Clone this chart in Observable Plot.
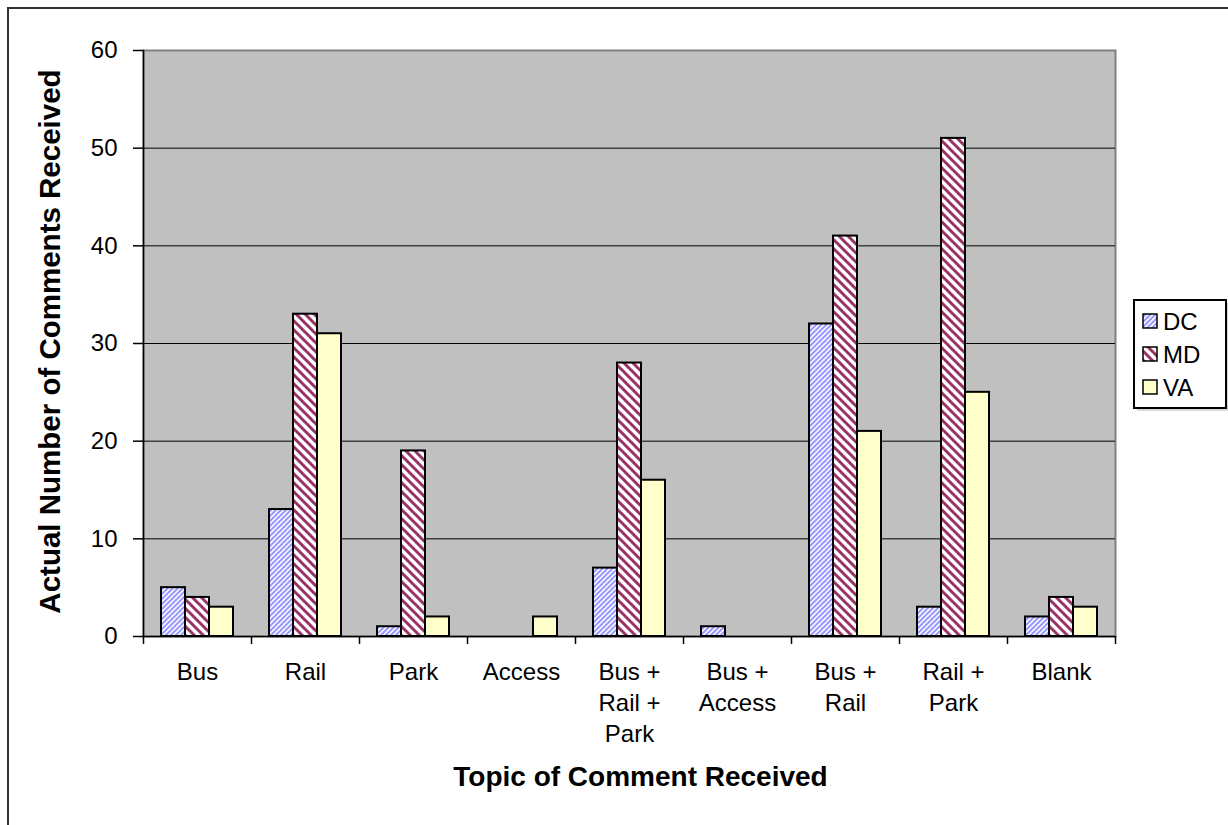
<!DOCTYPE html>
<html>
<head>
<meta charset="utf-8">
<script src="https://cdn.jsdelivr.net/npm/d3@7"></script>
<script src="https://cdn.jsdelivr.net/npm/@observablehq/plot@0.6"></script>
<style>
  html, body { margin: 0; padding: 0; background: #fff; overflow: hidden; }
  #chart svg { display: block; }
</style>
</head>
<body>
<div id="chart"></div>
<script>
// Comments received by topic, split by jurisdiction
const categories = ["Bus", "Rail", "Park", "Access", "Bus + Rail + Park", "Bus + Access", "Bus + Rail", "Rail + Park", "Blank"];
const tickLabels = ["Bus", "Rail", "Park", "Access", "Bus +\nRail +\nPark", "Bus +\nAccess", "Bus +\nRail", "Rail +\nPark", "Blank"];
const series = ["DC", "MD", "VA"];
const dcValues = [5, 13, 1, 0, 7, 1, 32, 3, 2];
const mdValues = [4, 33, 19, 0, 28, 0, 41, 51, 4];
const vaValues = [3, 31, 2, 2, 16, 0, 21, 25, 3];
const yTicks = [0, 10, 20, 30, 40, 50, 60];
const gridValues = [10, 20, 30, 40, 50];

const seriesValues = {DC: dcValues, MD: mdValues, VA: vaValues};
const seriesFill = {DC: "url(#pat-dc)", MD: "url(#pat-md)", VA: "#ffffcc"};

const font = "'Liberation Sans', Arial, Helvetica, sans-serif";
const bandWidth = (1228 - 143 - 113) / categories.length; // 108
const barWidth = 24;
const inset = (bandWidth - barWidth) / 2;

function rows(name) {
  return categories
    .map((c, j) => ({category: c, series: name, value: seriesValues[name][j]}))
    .filter(d => d.value > 0);
}

const labelOf = new Map(categories.map((c, i) => [c, tickLabels[i]]));

const chart = Plot.plot({
  width: 1228,
  height: 825,
  marginLeft: 143,
  marginRight: 113,
  marginTop: 50,
  marginBottom: 189,
  style: {fontFamily: font, color: "black", background: "white", overflow: "visible"},
  x: {domain: categories, paddingInner: 0, paddingOuter: 0, axis: null},
  y: {domain: [0, 60], axis: null},
  marks: [
    Plot.frame({fill: "#c0c0c0", stroke: "#808080", strokeWidth: 2}),
    Plot.ruleY(gridValues, {stroke: "black", strokeWidth: 1}),
    ...series.map((s, i) =>
      Plot.barY(rows(s), {
        x: "category",
        y: "value",
        fill: seriesFill[s],
        stroke: "black",
        strokeWidth: 2,
        insetLeft: inset,
        insetRight: inset,
        dx: (i - 1) * barWidth
      })
    ),
    Plot.frame({anchor: "left", stroke: "black", strokeWidth: 1.5}),
    Plot.ruleY([0], {stroke: "black", strokeWidth: 1.5}),
    Plot.axisY({
      ticks: yTicks,
      tickSize: 10,
      tickPadding: 16,
      fontSize: 24,
      stroke: "black",
      strokeWidth: 1.5,
      tickFormat: d => String(d),
      label: null
    }),
    // tick marks at the category boundaries
    Plot.axisX({tickSize: 8, tickFormat: () => "", dx: -bandWidth / 2, stroke: "black", strokeWidth: 1.5, label: null}),
    Plot.axisX([categories[categories.length - 1]], {tickSize: 8, tickFormat: () => "", dx: bandWidth / 2, stroke: "black", strokeWidth: 1.5, label: null}),
    // category labels, centred under each group
    Plot.axisX({
      tickSize: 0,
      tickPadding: 21,
      fontSize: 24,
      lineHeight: 1.3,
      tickFormat: d => labelOf.get(d),
      label: null
    }),
    Plot.text(["Topic of Comment Received"], {
      frameAnchor: "bottom",
      dy: 149,
      dx: 11,
      fontSize: 28,
      fontWeight: "bold",
      fill: "black",
      textAnchor: "middle"
    }),
    Plot.text(["Actual Number of Comments Received"], {
      frameAnchor: "left",
      dx: -93,
      dy: -2,
      rotate: -90,
      fontSize: 29.5,
      fontWeight: "bold",
      fill: "black",
      textAnchor: "middle"
    })
  ]
});

const svg = d3.select(chart);

// hatch patterns for the DC and MD bars
const defs = svg.insert("defs", ":first-child");
const dc = defs.append("pattern")
  .attr("id", "pat-dc").attr("patternUnits", "userSpaceOnUse")
  .attr("width", 5).attr("height", 5);
dc.append("rect").attr("width", 5).attr("height", 5).attr("fill", "#ffffff");
dc.append("path")
  .attr("d", "M-1,1 L1,-1 M0,5 L5,0 M4,6 L6,4")
  .attr("stroke", "#9999ff").attr("stroke-width", 2);

const md = defs.append("pattern")
  .attr("id", "pat-md").attr("patternUnits", "userSpaceOnUse")
  .attr("width", 9).attr("height", 9);
md.append("rect").attr("width", 9).attr("height", 9).attr("fill", "#ffffff");
md.append("path")
  .attr("d", "M-1,-1 L10,10 M-1,8 L1,10 M8,-1 L10,1")
  .attr("stroke", "#993366").attr("stroke-width", 3);

// outer chart border
svg.append("rect")
  .attr("x", 8).attr("y", 8)
  .attr("width", 1260).attr("height", 860)
  .attr("fill", "none").attr("stroke", "#333").attr("stroke-width", 2);

// legend
const lx = 1134, ly = 300, lw = 92, lh = 108;
const legend = svg.append("g");
legend.append("rect")
  .attr("x", lx + 3).attr("y", ly + 3).attr("width", lw).attr("height", lh)
  .attr("fill", "#d9d9d9");
legend.append("rect")
  .attr("x", lx).attr("y", ly).attr("width", lw).attr("height", lh)
  .attr("fill", "white").attr("stroke", "black").attr("stroke-width", 2);
series.forEach((s, i) => {
  const cy = ly + 21 + i * 33;
  legend.append("rect")
    .attr("x", lx + 9).attr("y", cy - 7).attr("width", 14).attr("height", 14)
    .attr("fill", seriesFill[s]).attr("stroke", "black").attr("stroke-width", 1.5);
  legend.append("text")
    .attr("x", lx + 29).attr("y", cy)
    .attr("dy", "0.36em")
    .attr("text-anchor", "start")
    .attr("font-size", 24)
    .attr("font-family", font)
    .attr("fill", "black")
    .text(s);
});

document.getElementById("chart").append(chart);
</script>
</body>
</html>
